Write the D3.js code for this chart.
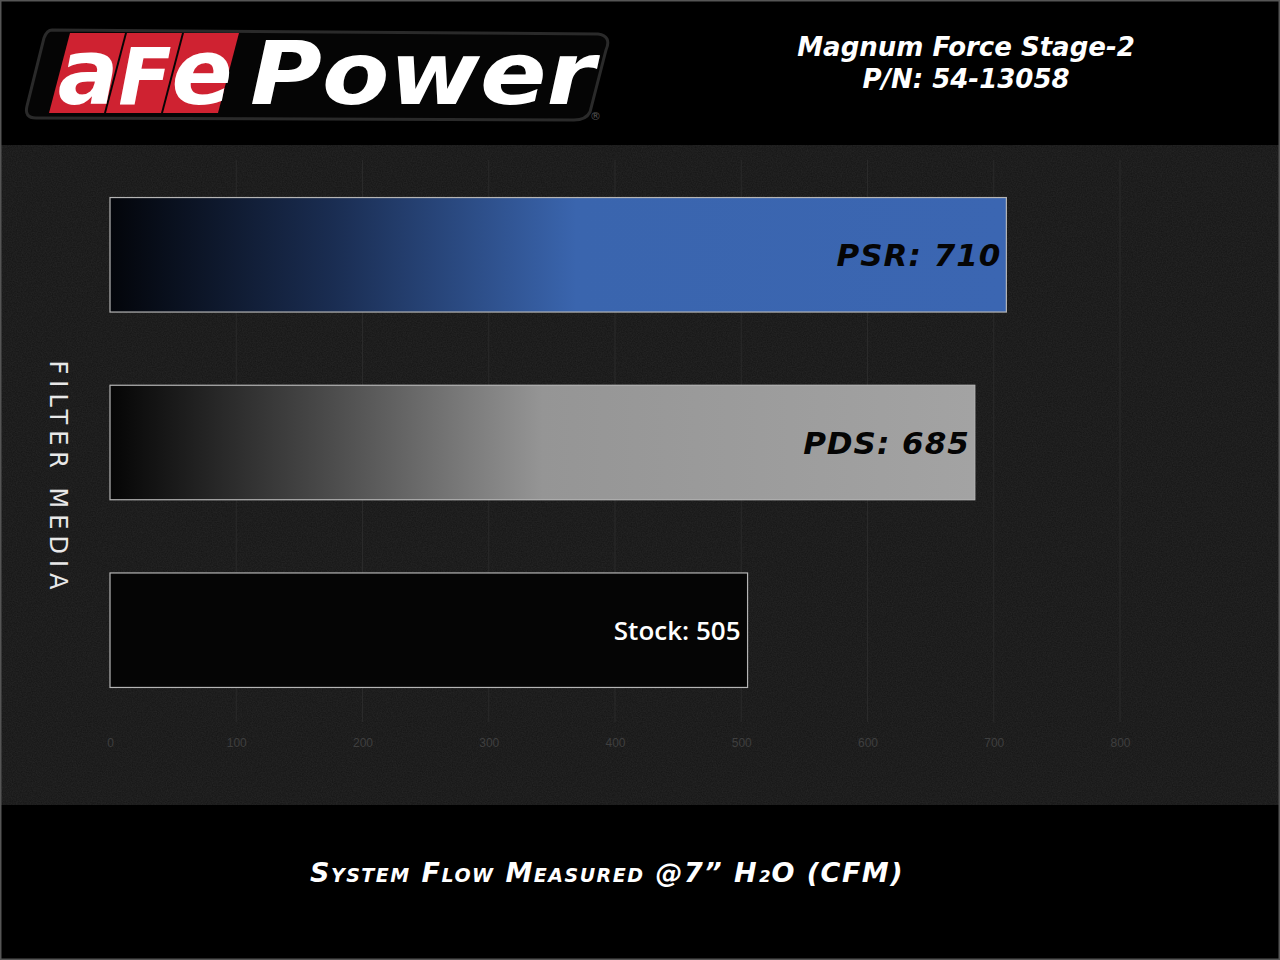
<!DOCTYPE html>
<html><head><meta charset="utf-8">
<script src="https://cdn.jsdelivr.net/npm/d3@7"></script>
<style>html,body{margin:0;padding:0;background:#000;}svg{display:block;}</style>
</head><body>
<script>
const categories = ["PSR", "PDS", "Stock"];
const values = [710, 685, 505];
const labels = ["PSR: 710", "PDS: 685", "Stock: 505"];
const tickValues = [0, 100, 200, 300, 400, 500, 600, 700, 800];
const titleLines = ["Magnum Force Stage-2", "P/N: 54-13058"];
const xTitle = "System Flow Measured @7\u201D H\u2082O (CFM)";
const yTitle = "FILTER MEDIA";

const W = 1280, H = 960;
const svg = d3.select("body").append("svg").attr("width", W).attr("height", H);
const defs = svg.append("defs");

// noise texture
const f = defs.append("filter").attr("id","noise").attr("x",0).attr("y",0).attr("width","100%").attr("height","100%")
  .attr("color-interpolation-filters","sRGB");
f.append("feTurbulence").attr("type","fractalNoise").attr("baseFrequency",0.8).attr("numOctaves",2).attr("seed",3).attr("result","t");
f.append("feColorMatrix").attr("in","t").attr("type","matrix")
 .attr("values","0 0 0 0 0.2  0 0 0 0 0.2  0 0 0 0 0.2  0 0 0 0.6 0").attr("result","c");
f.append("feComposite").attr("in","c").attr("in2","SourceGraphic").attr("operator","in");

const gBlue = defs.append("linearGradient").attr("id","gBlue");
gBlue.append("stop").attr("offset","0%").attr("stop-color","#03050a");
gBlue.append("stop").attr("offset","25%").attr("stop-color","#1a2d52");
gBlue.append("stop").attr("offset","52%").attr("stop-color","#3a65ae");
gBlue.append("stop").attr("offset","100%").attr("stop-color","#3b66b2");
const gGray = defs.append("linearGradient").attr("id","gGray");
gGray.append("stop").attr("offset","0%").attr("stop-color","#050505");
gGray.append("stop").attr("offset","25%").attr("stop-color","#4a4a4a");
gGray.append("stop").attr("offset","50%").attr("stop-color","#959595");
gGray.append("stop").attr("offset","100%").attr("stop-color","#a3a3a3");
const fills = ["url(#gBlue)", "url(#gGray)", "#050505"];

// background
svg.append("rect").attr("width",W).attr("height",H).attr("fill","#000");
svg.append("rect").attr("x",0).attr("y",145).attr("width",W).attr("height",660).attr("fill","#151515");
svg.append("rect").attr("x",0).attr("y",145).attr("width",W).attr("height",660).attr("fill","#222").attr("filter","url(#noise)");
// frame
svg.append("rect").attr("x",0.5).attr("y",0.5).attr("width",W-1).attr("height",H-1).attr("fill","none").attr("stroke","#555").attr("stroke-width",2);

const x = d3.scaleLinear().domain([0, 800]).range([110, 1120]);
const y = d3.scaleBand().domain(categories).range([160, 725]).paddingInner(0.39).paddingOuter(0.2);

// grid
svg.append("g").selectAll("line").data(tickValues.slice(1)).join("line")
  .attr("x1", d => x(d)).attr("x2", d => x(d)).attr("y1", 160).attr("y2", 722)
  .attr("stroke", "#2a2a2a").attr("stroke-width", 1);

// ticks
const axis = d3.axisBottom(x).tickValues(tickValues).tickSize(0).tickPadding(0);
const ag = svg.append("g").attr("transform","translate(0,738)").call(axis);
ag.select(".domain").remove();
ag.selectAll("text").attr("fill","#3f3f3f").attr("font-family","Liberation Sans, Arial, sans-serif").attr("font-size",12).attr("dy","0.71em");

// bars
svg.append("g").selectAll("rect").data(values).join("rect")
  .attr("x", x(0)).attr("y", (d,i) => y(categories[i]))
  .attr("width", d => x(d) - x(0)).attr("height", y.bandwidth())
  .attr("fill", (d,i) => fills[i]).attr("stroke","#b5b5b5").attr("stroke-width",1.2);

// bar labels
const lab = svg.append("g");
labels.forEach((t,i) => {
  const isStock = i === 2;
  lab.append("text").text(t)
    .attr("x", x(values[i]) - (isStock ? 7 : 5))
    .attr("y", y(categories[i]) + y.bandwidth()/2)
    .attr("dy","0.36em").attr("text-anchor","end")
    .attr("font-family", isStock ? "Open Sans, sans-serif" : "DejaVu Sans, sans-serif")
    .attr("font-weight", isStock ? 600 : 700)
    .attr("font-style", isStock ? "normal" : "italic")
    .attr("font-size", isStock ? 26 : 31)
    .attr("letter-spacing", isStock ? 0 : 1)
    .attr("fill", isStock ? "#fff" : "#050505");
});

// y title
svg.append("text").text(yTitle)
  .attr("transform","translate(58,478) rotate(90)")
  .attr("text-anchor","middle").attr("dy","0.35em")
  .attr("font-family","DejaVu Sans, sans-serif").attr("font-size",24)
  .attr("letter-spacing",6).attr("fill","#e8e8e8");

// x title
svg.append("text").attr("x",607).attr("y",873).attr("dy","0.35em").attr("text-anchor","middle")
  .attr("font-family","DejaVu Sans, sans-serif").attr("font-weight",700).attr("font-style","italic")
  .attr("font-size",27).attr("fill","#fff").attr("letter-spacing",1.5)
  .style("font-variant","small-caps").text(xTitle);

// header title
titleLines.forEach((t,i) => {
  svg.append("text").text(t).attr("x",966).attr("y",47 + i*32).attr("dy","0.35em")
   .attr("text-anchor","middle").attr("font-family","DejaVu Sans, sans-serif")
   .attr("font-weight",700).attr("font-style","italic").attr("font-size",26).attr("fill","#fff");
});

// logo
const lg = svg.append("g");
lg.append("path").attr("d","M52,30 L598,34 Q612,36 606,50 L590,112 Q586,120 574,120 L36,118 Q24,118 27,106 L44,38 Q47,30 52,30 Z")
  .attr("fill","#050505").attr("stroke","#2a2a2a").attr("stroke-width",3);
const boxes = [[70,"a"],[127,"F"],[184,"e"]];
boxes.forEach(([bx,ch]) => {
  lg.append("path").attr("d",`M${bx},33 L${bx+55},33 L${bx+34},113 L${bx-21},113 Z`).attr("fill","#cf2231");
  lg.append("text").text(ch).attr("x",bx+18).attr("y",104).attr("text-anchor","middle")
    .attr("font-family","DejaVu Sans, sans-serif").attr("font-weight",700).attr("font-style","italic")
    .attr("font-size",ch==="F"?78:90).attr("fill","#fff");
});
lg.append("text").text("Power").attr("x",250).attr("y",104)
  .attr("font-family","DejaVu Sans, sans-serif").attr("font-weight",700).attr("font-style","italic")
  .attr("font-size",88).attr("fill","#fff").attr("textLength",345).attr("lengthAdjust","spacingAndGlyphs");
lg.append("text").text("\u00AE").attr("x",590).attr("y",120).attr("font-family","DejaVu Sans, sans-serif")
  .attr("font-size",11).attr("fill","#555");
</script>
</body></html>
